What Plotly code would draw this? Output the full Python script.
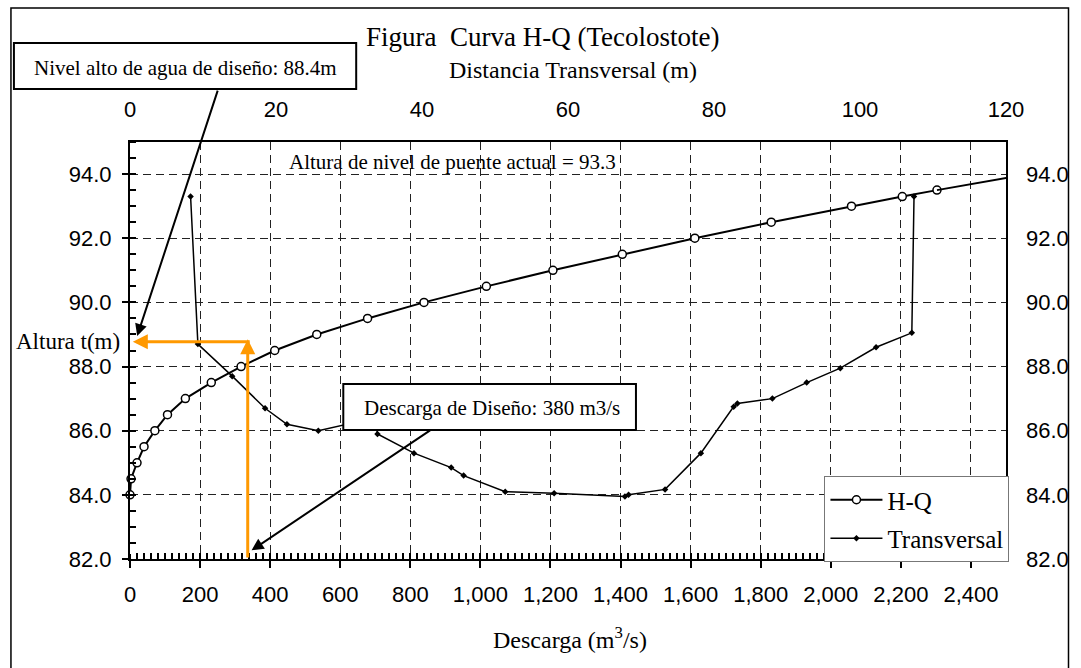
import plotly.graph_objects as go

# ---------------- data ----------------
# H-Q curve: discharge (m3/s) vs water level (m)
Q_HQ = [0, 3, 20, 40, 71, 107, 158, 232, 317, 413, 533, 678, 839, 1017,
        1207, 1405, 1612, 1830, 2059, 2204, 2303]
H_HQ = [84.0, 84.5, 85.0, 85.5, 86.0, 86.5, 87.0, 87.5, 88.0, 88.5, 89.0,
        89.5, 90.0, 90.5, 91.0, 91.5, 92.0, 92.5, 93.0, 93.3, 93.5]
# trend continuation of the H-Q line beyond the last point
Q_HQ_TREND = [2303, 2512]
H_HQ_TREND = [93.5, 93.9]

# Cross section: transversal distance (m) vs elevation (m)
D_T = [8.3, 9.3, 14.0, 18.5, 21.5, 25.8, 33.6, 33.9, 38.9, 44.0, 45.7, 51.4,
       58.1, 67.8, 68.3, 73.3, 78.2, 82.7, 83.2, 88.0, 92.7, 97.3, 102.2,
       107.1, 107.4]
H_T = [93.3, 88.7, 87.7, 86.7, 86.2, 86.0, 86.4, 85.9, 85.3, 84.85, 84.6,
       84.1, 84.05, 83.95, 84.0, 84.17, 85.3, 86.75, 86.85, 87.0, 87.5, 87.95,
       88.6, 89.05, 93.3]

X_TICKS = list(range(0, 2401, 200))
Y_TICKS = [82, 84, 86, 88, 90, 92, 94]
TOP_TICKS = [0, 20, 40, 60, 80, 100, 120]
X_MINOR_STEP = 20
Y_MINOR_STEP = 0.5

# design values as drawn on the chart
Q_DESIGN_DRAWN = 336
H_DESIGN_DRAWN = 88.77

# ---------------- layout geometry ----------------
W, HGT = 1081, 668
L, R, T, B = 130, 1081 - 1013, 142, 668 - 559
PW, PH = W - L - R, HGT - T - B


def px(x):
    return (x - L) / PW


def py(y):
    return (HGT - B - y) / PH


SERIF = "Liberation Serif"
SANS = "Liberation Sans"
GRID = dict(showgrid=True, gridcolor="#222222", gridwidth=1,
            griddash="8px,5px")
X_RANGE = [0, 2500]
Y_RANGE = [82, 95]

fig = go.Figure()

fig.add_trace(go.Scatter(
    x=Q_HQ, y=H_HQ, name="H-Q", mode="lines+markers",
    line=dict(color="black", width=2),
    marker=dict(symbol="circle", size=8, color="white",
                line=dict(color="black", width=1.5)),
    legendgroup="a", cliponaxis=False))
fig.add_trace(go.Scatter(
    x=Q_HQ_TREND, y=H_HQ_TREND, mode="lines", showlegend=False,
    line=dict(color="black", width=2), hoverinfo="skip"))
fig.add_trace(go.Scatter(
    x=D_T, y=H_T, name="Transversal", mode="lines+markers", xaxis="x2",
    line=dict(color="black", width=1.5),
    marker=dict(symbol="diamond", size=5, color="black"),
    legendgroup="b"))
# right-hand axis carries the same elevation scale
fig.add_trace(go.Scatter(x=[None], y=[None], yaxis="y2", showlegend=False,
                         hoverinfo="skip"))
# helper axes that carry the small inside tick marks
fig.add_trace(go.Scatter(x=[None], y=[None], xaxis="x3", yaxis="y",
                         showlegend=False, hoverinfo="skip"))
fig.add_trace(go.Scatter(x=[None], y=[None], xaxis="x", yaxis="y3",
                         showlegend=False, hoverinfo="skip"))

TICKFONT = dict(family=SANS, size=22, color="black")
MINOR_TICKS = dict(ticks="inside", tickcolor="black", tickwidth=1,
                   showgrid=False)

fig.update_layout(
    width=W, height=HGT,
    margin=dict(l=L, r=R, t=T, b=B, pad=0),
    paper_bgcolor="white", plot_bgcolor="rgba(0,0,0,0)",
    font=dict(family=SERIF, color="black"),
    showlegend=True,
    legend=dict(x=px(830), y=py(476), xanchor="left", yanchor="top",
                bgcolor="white", bordercolor="#777", borderwidth=1,
                font=dict(family=SERIF, size=25, color="black"),
                traceorder="grouped", tracegroupgap=3,
                itemwidth=52),
    xaxis=dict(range=X_RANGE, tickmode="linear", tick0=X_TICKS[0],
               dtick=X_TICKS[1] - X_TICKS[0], tickformat=",",
               showline=True, linecolor="black", linewidth=2, mirror=True,
               ticks="outside", ticklen=7, tickwidth=1.5, tickcolor="black",
               minor=dict(dtick=X_MINOR_STEP, ticklen=5, **MINOR_TICKS),
               tickfont=TICKFONT, ticklabelstandoff=8, zeroline=False,
               **GRID),
    yaxis=dict(range=Y_RANGE, tickmode="linear", tick0=Y_TICKS[0],
               dtick=Y_TICKS[1] - Y_TICKS[0], tickformat=".1f",
               showline=True, linecolor="black", linewidth=2, mirror=True,
               ticks="outside", ticklen=6, tickwidth=1.5, tickcolor="black",
               minor=dict(dtick=Y_MINOR_STEP, ticklen=6, **MINOR_TICKS),
               tickfont=TICKFONT, ticklabelstandoff=6, zeroline=False,
               **GRID),
    xaxis2=dict(range=[0, 120], tickvals=TOP_TICKS, overlaying="x",
                side="top", showgrid=False, zeroline=False, showline=False,
                ticks="", tickfont=TICKFONT, ticklabelstandoff=20),
    yaxis2=dict(range=Y_RANGE, tickvals=Y_TICKS, tickformat=".1f",
                overlaying="y", side="right", showgrid=False,
                zeroline=False, showline=False, ticks="",
                tickfont=TICKFONT, ticklabelstandoff=19),
    xaxis3=dict(range=X_RANGE, overlaying="x", side="bottom", anchor="y",
                tickmode="linear", tick0=X_RANGE[0], dtick=X_MINOR_STEP,
                ticks="inside", ticklen=6, tickwidth=1.5, tickcolor="black",
                showticklabels=False, showgrid=False, zeroline=False,
                showline=False),
    yaxis3=dict(range=Y_RANGE, overlaying="y", side="left", anchor="x",
                tickmode="linear", tick0=Y_RANGE[0], dtick=Y_MINOR_STEP,
                ticks="inside", ticklen=6, tickwidth=1.5, tickcolor="black",
                showticklabels=False, showgrid=False, zeroline=False,
                showline=False),
)

shapes = [
    # outer frame
    dict(type="rect", xref="paper", yref="paper", x0=px(10), x1=px(1076),
         y0=py(720), y1=py(8), line=dict(color="black", width=1.5),
         layer="above"),
    # boxes
    dict(type="rect", xref="paper", yref="paper", x0=px(13), x1=px(358),
         y0=py(89), y1=py(43), line=dict(color="black", width=2),
         fillcolor="white", layer="above"),
    dict(type="rect", xref="paper", yref="paper", x0=px(345), x1=px(640),
         y0=py(430), y1=py(384), line=dict(color="black", width=2),
         fillcolor="white", layer="above"),
]
fig.update_layout(shapes=shapes)

ann = [
    dict(text="Figura  Curva H-Q (Tecolostote)", x=px(546), y=py(37),
         font=dict(size=27)),
    dict(text="Distancia Transversal (m)", x=px(577), y=py(70),
         font=dict(size=24)),
    dict(text="Nivel alto de agua de diseño: 88.4m", x=px(186), y=py(68),
         font=dict(size=21)),
    dict(text="Descarga de Diseño: 380 m3/s", x=px(495), y=py(408),
         font=dict(size=21)),
    dict(text="Altura de nivel de puente actual = 93.3", x=px(288),
         y=py(162), xanchor="left", font=dict(size=21)),
    dict(text="Altura t(m)", x=px(68), y=py(341), font=dict(size=23)),
    dict(text="Descarga (m<sup>3</sup>/s)", x=px(574), y=py(638),
         font=dict(size=24)),
]
annotations = []
for a in ann:
    d = dict(xref="paper", yref="paper", showarrow=False, xanchor="center",
             yanchor="middle")
    d.update(a)
    d["font"] = dict(family=SERIF, color="black", **a["font"])
    annotations.append(d)

# black arrows
annotations.append(dict(x=20.5, y=88.95, xref="x", yref="y", ax=81, ay=-247,
                        axref="pixel", ayref="pixel", text="", showarrow=True,
                        arrowhead=2, arrowsize=1.2, arrowwidth=2,
                        arrowcolor="black", standoff=0))
annotations.append(dict(x=347, y=82.27, xref="x", yref="y", ax=180, ay=-121,
                        axref="pixel", ayref="pixel", text="", showarrow=True,
                        arrowhead=2, arrowsize=1.2, arrowwidth=2,
                        arrowcolor="black", standoff=0))
# orange design arrows
annotations.append(dict(x=Q_DESIGN_DRAWN, y=H_DESIGN_DRAWN + 0.08, xref="x",
                        yref="y", ax=Q_DESIGN_DRAWN, ay=82, axref="x",
                        ayref="y", text="", showarrow=True, arrowhead=2,
                        arrowsize=1, arrowwidth=3, arrowcolor="#FF9900",
                        standoff=0))
annotations.append(dict(x=8, y=H_DESIGN_DRAWN, xref="x", yref="y",
                        ax=Q_DESIGN_DRAWN + 10, ay=H_DESIGN_DRAWN, axref="x",
                        ayref="y", text="", showarrow=True, arrowhead=2,
                        arrowsize=1, arrowwidth=3, arrowcolor="#FF9900",
                        standoff=0))
fig.update_layout(annotations=annotations)

fig.write_html("out.html")
